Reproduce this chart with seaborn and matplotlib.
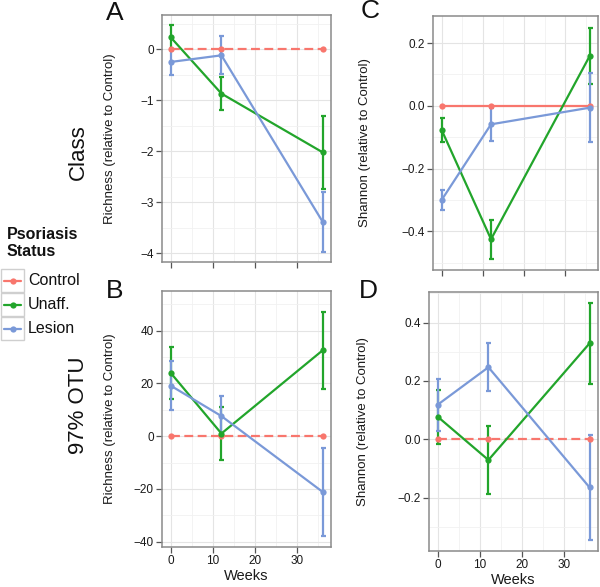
import matplotlib
matplotlib.use('Agg')
import numpy as np
import pandas as pd
import matplotlib.pyplot as plt
import seaborn as sns
from matplotlib.lines import Line2D
from matplotlib.patches import Rectangle
from matplotlib.ticker import FixedLocator, FixedFormatter, MultipleLocator

# ---------------- data ----------------
weeks = [0, 12, 36]
statuses = ['Control', 'Unaff.', 'Lesion']

# Class level, richness
class_rich_control = [0.0, 0.0, 0.0]
class_rich_unaff = [0.23, -0.87, -2.02]
class_rich_unaff_err = [0.24, 0.32, 0.71]
class_rich_lesion = [-0.25, -0.12, -3.38]
class_rich_lesion_err = [0.25, 0.37, 0.59]

# Class level, Shannon
class_shan_control = [0.0, 0.0, 0.0]
class_shan_unaff = [-0.077, -0.425, 0.159]
class_shan_unaff_err = [0.037, 0.062, 0.09]
class_shan_lesion = [-0.30, -0.059, -0.006]
class_shan_lesion_err = [0.031, 0.052, 0.109]

# 97% OTU, richness
otu_rich_control = [0.0, 0.0, 0.0]
otu_rich_unaff = [23.9, 1.0, 32.5]
otu_rich_unaff_err = [9.9, 9.9, 14.6]
otu_rich_lesion = [19.1, 7.6, -21.1]
otu_rich_lesion_err = [9.2, 7.6, 16.8]

# 97% OTU, Shannon
otu_shan_control = [0.0, 0.0, 0.0]
otu_shan_unaff = [0.077, -0.071, 0.329]
otu_shan_unaff_err = [0.093, 0.117, 0.138]
otu_shan_lesion = [0.119, 0.247, -0.165]
otu_shan_lesion_err = [0.089, 0.082, 0.18]

x_ticks = [0, 10, 20, 30]
x_tick_labels = ['0', '10', '20', '30']
a_ticks = [0, -1, -2, -3, -4]
a_labels = ['0', '\u22121', '\u22122', '\u22123', '\u22124']
b_ticks = [40, 20, 0, -20, -40]
b_labels = ['40', '20', '0', '\u221220', '\u221240']
c_ticks = [0.2, 0.0, -0.2, -0.4]
c_labels = ['0.2', '0.0', '\u22120.2', '\u22120.4']
d_ticks = [0.4, 0.2, 0.0, -0.2]
d_labels = ['0.4', '0.2', '0.0', '\u22120.2']

row_labels = ['Class', '97% OTU']
panel_letters = ['A', 'B', 'C', 'D']
ylab_rich = 'Richness (relative to Control)'
ylab_shan = 'Shannon (relative to Control)'
xlab = 'Weeks'
legend_title = 'Psoriasis\nStatus'

# ---------------- style ----------------
sns.set_theme(style='white')
plt.rcParams['font.family'] = ['Liberation Sans', 'DejaVu Sans']

palette = {'Control': '#F8766D', 'Unaff.': '#22A52B', 'Lesion': '#7A99D8'}
frame_col = '#8a8a8a'

W, H = 600, 587
fig = plt.figure(figsize=(6.0, 5.87), dpi=100)


def rect(l, t, r, b):
    return [l / W, 1 - b / H, (r - l) / W, (b - t) / H]


def make_df(ctrl, unaff, unaff_err, lesion, lesion_err):
    rows = []
    for s, vals, errs in [('Control', ctrl, [0, 0, 0]),
                          ('Unaff.', unaff, unaff_err),
                          ('Lesion', lesion, lesion_err)]:
        for w, v, e in zip(weeks, vals, errs):
            rows.append(dict(week=w, status=s, value=v, err=e))
    return pd.DataFrame(rows)


panels = [
    dict(letter='A', box=(162, 15, 331, 262), ylim=(-4.17, 0.67),
         df=make_df(class_rich_control, class_rich_unaff, class_rich_unaff_err,
                    class_rich_lesion, class_rich_lesion_err),
         yt=a_ticks, yl=a_labels, minor=0.5, ylabel=ylab_rich, ctrl_dash=True,
         bottom=False, letter_xy=(115, 13)),
    dict(letter='C', box=(433, 16, 598, 270), ylim=(-0.523, 0.286),
         df=make_df(class_shan_control, class_shan_unaff, class_shan_unaff_err,
                    class_shan_lesion, class_shan_lesion_err),
         yt=c_ticks, yl=c_labels, minor=0.1, ylabel=ylab_shan, ctrl_dash=False,
         bottom=False, letter_xy=(370, 11)),
    dict(letter='B', box=(162, 291, 331, 547), ylim=(-42.0, 55.0),
         df=make_df(otu_rich_control, otu_rich_unaff, otu_rich_unaff_err,
                    otu_rich_lesion, otu_rich_lesion_err),
         yt=b_ticks, yl=b_labels, minor=10, ylabel=ylab_rich, ctrl_dash=True,
         bottom=True, letter_xy=(115, 291)),
    dict(letter='D', box=(429, 292, 598, 551), ylim=(-0.383, 0.505),
         df=make_df(otu_shan_control, otu_shan_unaff, otu_shan_unaff_err,
                    otu_shan_lesion, otu_shan_lesion_err),
         yt=d_ticks, yl=d_labels, minor=0.1, ylabel=ylab_shan, ctrl_dash=True,
         bottom=True, letter_xy=(368, 291)),
]

for p in panels:
    ax = fig.add_axes(rect(*p['box']))
    df = p['df']
    dashes = {'Control': (4, 2) if p['ctrl_dash'] else '', 'Unaff.': '', 'Lesion': ''}
    # error bars
    for s in ['Unaff.', 'Lesion']:
        sub = df[df['status'] == s]
        ax.errorbar(sub['week'], sub['value'], yerr=sub['err'], fmt='none',
                    ecolor=palette[s], elinewidth=1.6, capsize=1.8, capthick=1.6,
                    zorder=2)
    sns.lineplot(data=df, x='week', y='value', hue='status', style='status',
                 hue_order=statuses, style_order=statuses, palette=palette,
                 dashes=dashes, markers={s: 'o' for s in statuses},
                 markersize=4.5, markeredgewidth=0, linewidth=1.6,
                 errorbar=None, legend=False, ax=ax, zorder=3)
    ax.set_xlim(-2.1, 38)
    ax.set_ylim(*p['ylim'])
    ax.xaxis.set_major_locator(FixedLocator(x_ticks))
    ax.xaxis.set_minor_locator(FixedLocator([5, 15, 25, 35]))
    ax.yaxis.set_major_locator(FixedLocator(p['yt']))
    ax.yaxis.set_major_formatter(FixedFormatter(p['yl']))
    ax.yaxis.set_minor_locator(MultipleLocator(p['minor']))
    if p['bottom']:
        ax.xaxis.set_major_formatter(FixedFormatter(x_tick_labels))
        ax.set_xlabel(xlab, fontsize=10.5, color='#1a1a1a', labelpad=1)
    else:
        ax.set_xticklabels([])
        ax.set_xlabel('')
    ax.set_ylabel(p['ylabel'], fontsize=9.5, color='#1a1a1a')
    bx = p['box']
    ax.yaxis.set_label_coords((p['letter_xy'][0] + 1 - bx[0]) / (bx[2] - bx[0]), 0.5)
    ax.grid(True, which='major', color='#e4e4e4', linewidth=0.8)
    ax.grid(True, which='minor', color='#f1f1f1', linewidth=0.6)
    ax.set_axisbelow(True)
    for sp in ax.spines.values():
        sp.set_color(frame_col)
        sp.set_linewidth(1.1)
    ax.tick_params(which='major', direction='out', length=4, width=0.9,
                   color='#555555', labelsize=8.5, labelcolor='#1a1a1a', pad=2,
                   bottom=True, left=True)
    ax.tick_params(which='minor', length=0)
    lx, ly = p['letter_xy']
    fig.text(lx / W, 1 - ly / H, p['letter'], fontsize=19, ha='center', va='center',
             color='#111111')

# row labels
fig.text(78 / W, 1 - 152 / H, row_labels[0], rotation=90, fontsize=16,
         ha='center', va='center', color='#111111')
fig.text(78 / W, 1 - 405 / H, row_labels[1], rotation=90, fontsize=16,
         ha='center', va='center', color='#111111')

# legend (manual, ggplot-like keys)
fig.text(7 / W, 1 - 243 / H, legend_title, fontsize=11.5, fontweight='bold',
         ha='left', va='center', linespacing=1.15, color='#111111')
key_tops = [269, 293, 317]
for s, t in zip(statuses, key_tops):
    fig.patches.append(Rectangle((1 / W, 1 - (t + 23) / H), 23 / W, 23 / H,
                                 transform=fig.transFigure, facecolor='white',
                                 edgecolor='#cfcfcf', linewidth=1.0))
    yc = 1 - (t + 11.5) / H
    fig.lines.append(Line2D([4 / W, 21 / W], [yc, yc], transform=fig.transFigure,
                            color=palette[s], linewidth=1.6))
    fig.lines.append(Line2D([12.5 / W], [yc], transform=fig.transFigure,
                            color=palette[s], marker='o', markersize=4.5,
                            markeredgewidth=0))
    fig.text(28 / W, yc, s, fontsize=11.5, ha='left', va='center', color='#111111')

fig.savefig('out.png', dpi=100)
